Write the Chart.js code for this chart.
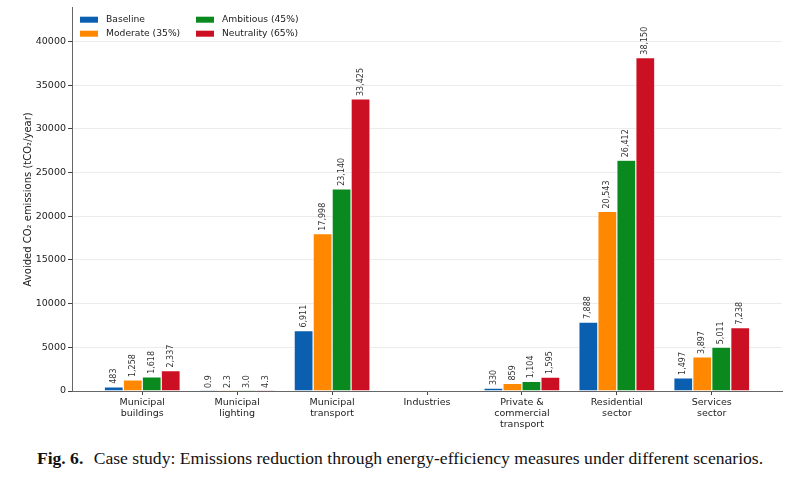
<!DOCTYPE html>
<html lang="en">
<head>
  <meta charset="UTF-8">
  <title>Avoided CO2 emissions by sector</title>
  <script src="https://cdn.jsdelivr.net/npm/chart.js"></script>
  <style>
    body {
      margin: 0;
      padding: 0;
      background: #fff;
      width: 800px;
      height: 487px;
      overflow: hidden;
    }
    .chart-container {
      position: relative;
      width: 800px;
      height: 436px;
    }
    .caption {
      width: 800px;
      margin-top: 12px;
      text-align: center;
      font-family: "Liberation Serif", "Times New Roman", serif;
      font-size: 17.6px;
      line-height: 20px;
      color: #111;
      white-space: nowrap;
    }
    .caption b {
      margin-right: 6px;
    }
  </style>
</head>
<body>
  <div class="chart-container">
    <canvas id="emissionsChart"></canvas>
  </div>
  <div class="caption"><b>Fig. 6.</b> Case study: Emissions reduction through energy-efficiency measures under different scenarios.</div>

  <script>
    // Sektoren (x-Achse)
    const categories = [
      ['Municipal', 'buildings'],
      ['Municipal', 'lighting'],
      ['Municipal', 'transport'],
      ['Industries'],
      ['Private &', 'commercial', 'transport'],
      ['Residential', 'sector'],
      ['Services', 'sector']
    ];

    // Szenarien (tCO2/Jahr)
    const scenarioNames = ['Baseline', 'Moderate (35%)', 'Ambitious (45%)', 'Neutrality (65%)'];
    const baseline   = [483, 0.9, 6911, 0, 330, 7888, 1497];
    const moderate   = [1258, 2.3, 17998, 0, 859, 20543, 3897];
    const ambitious  = [1618, 3.0, 23140, 0, 1104, 26412, 5011];
    const neutrality = [2337, 4.3, 33425, 0, 1595, 38150, 7238];
    const yTicks = [0, 5000, 10000, 15000, 20000, 25000, 30000, 35000, 40000];

    const seriesValues = [baseline, moderate, ambitious, neutrality];
    const seriesColors = ['#0a5fb0', '#ff8800', '#0a8a1e', '#cc1024'];

    const yMax = Math.max(...neutrality) * 1.15;

    function formatValue(v) {
      if (v >= 100) return Math.round(v).toLocaleString('en-US');
      return v.toFixed(1);
    }

    // Werte über den Balken (um 90° gedreht)
    const barLabels = {
      id: 'barLabels',
      afterDatasetsDraw(chart) {
        const ctx = chart.ctx;
        ctx.save();
        ctx.font = '8px "DejaVu Sans", sans-serif';
        ctx.fillStyle = '#333';
        ctx.textAlign = 'left';
        ctx.textBaseline = 'middle';
        chart.data.datasets.forEach((ds, di) => {
          chart.getDatasetMeta(di).data.forEach((bar, i) => {
            const v = ds.data[i].y;
            if (!v) return;
            ctx.save();
            ctx.translate(bar.x, bar.y - 3);
            ctx.rotate(-Math.PI / 2);
            ctx.fillText(formatValue(v), 0, 0);
            ctx.restore();
          });
        });
        ctx.restore();
      }
    };

    // Legende in zwei Spalten oben links
    const twoColLegend = {
      id: 'twoColLegend',
      afterDraw(chart) {
        const ctx = chart.ctx;
        const area = chart.chartArea;
        ctx.save();
        ctx.font = '9.2px "DejaVu Sans", sans-serif';
        ctx.textBaseline = 'middle';
        ctx.textAlign = 'left';
        chart.data.datasets.forEach((ds, i) => {
          const col = Math.floor(i / 2);
          const row = i % 2;
          const x = area.left + 8 + col * 116;
          const y = area.top + 12 + row * 14;
          ctx.fillStyle = ds.backgroundColor;
          ctx.fillRect(x, y - 3, 18, 6);
          ctx.fillStyle = '#222';
          ctx.fillText(ds.label, x + 26, y);
        });
        ctx.restore();
      }
    };

    const ctx = document.getElementById('emissionsChart').getContext('2d');
    const chart = new Chart(ctx, {
      type: 'bar',
      data: {
        datasets: scenarioNames.map((name, s) => ({
          label: name,
          data: seriesValues[s].map((v, i) => ({ x: i, y: v })),
          backgroundColor: seriesColors[s],
          borderColor: '#ffffff',
          borderWidth: 0.6,
          barPercentage: 1.0,
          categoryPercentage: 0.8
        }))
      },
      options: {
        responsive: true,
        maintainAspectRatio: false,
        animation: false,
        layout: { padding: { left: 22, right: 18, top: 6, bottom: 0 } },
        plugins: {
          legend: { display: false },
          tooltip: { enabled: false }
        },
        scales: {
          x: {
            type: 'linear',
            offset: false,
            min: -0.74,
            max: categories.length - 1 + 0.74,
            afterFit: (scale) => { scale.height = 45; },
            grid: {
              offset: false,
              drawOnChartArea: false,
              drawTicks: true,
              tickLength: 4,
              tickColor: '#444'
            },
            border: { display: true, color: '#666', width: 1 },
            ticks: {
              stepSize: 1,
              includeBounds: false,
              autoSkip: false,
              maxRotation: 0,
              padding: 2,
              color: '#222',
              font: { family: '"DejaVu Sans", sans-serif', size: 9.5, lineHeight: 1.15 },
              callback: (v) => Number.isInteger(v) && categories[v] ? categories[v] : ''
            }
          },
          y: {
            min: 0,
            max: yMax,
            afterFit: (scale) => { scale.width = 50; },
            afterBuildTicks: (scale) => { scale.ticks = yTicks.map(v => ({ value: v })); },
            grid: {
              color: '#ececec',
              lineWidth: 1,
              drawTicks: true,
              tickLength: 4,
              tickColor: '#444'
            },
            border: { display: true, color: '#666', width: 1 },
            ticks: {
              padding: 2,
              color: '#222',
              font: { family: '"DejaVu Sans", sans-serif', size: 9.5 },
              callback: (v) => String(v)
            },
            title: {
              display: true,
              text: 'Avoided CO\u2082 emissions (tCO\u2082/year)',
              color: '#222',
              font: { family: '"DejaVu Sans", sans-serif', size: 10 },
              padding: { top: 0, bottom: 2 }
            }
          }
        }
      },
      plugins: [barLabels, twoColLegend]
    });
  </script>
</body>
</html>
